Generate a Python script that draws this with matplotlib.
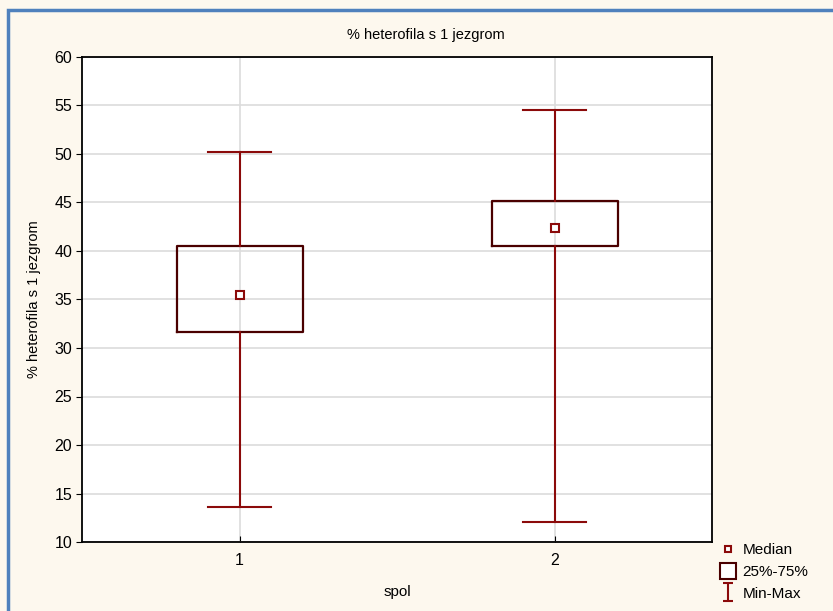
import matplotlib
matplotlib.use('Agg')
matplotlib.rc('font', family=['Liberation Sans', 'DejaVu Sans'])
import matplotlib.pyplot as plt
from matplotlib.lines import Line2D
from matplotlib.path import Path
from matplotlib.patches import Rectangle

# box plot summary per group (spol)
groups = ['1', '2']
medians = [35.5, 42.4]
q1 = [31.7, 40.5]
q3 = [40.5, 45.2]
mins = [13.6, 12.1]
maxs = [50.2, 54.5]

title = '% heterofila s 1 jezgrom'
bg = '#fdf8ee'
box_col = '#4a0000'
whisk_col = '#8b0a0a'

fig = plt.figure(figsize=(8.33, 6.11), dpi=100, facecolor=bg)
ax = fig.add_axes([82/833, 69/611, 630/833, 485/611])
ax.set_facecolor('white')

stats = []
for i in range(len(groups)):
    stats.append(dict(med=medians[i], q1=q1[i], q3=q3[i],
                      whislo=mins[i], whishi=maxs[i], label=groups[i]))

pos = list(range(1, len(groups) + 1))
ax.bxp(stats, positions=pos, widths=0.4, capwidths=0.2, showfliers=False,
       boxprops=dict(color=box_col, linewidth=1.6),
       whiskerprops=dict(color=whisk_col, linewidth=1.5),
       capprops=dict(color=whisk_col, linewidth=1.5),
       medianprops=dict(linestyle='none'), zorder=3)
ax.plot(pos, medians, linestyle='none', marker='s', markersize=6,
        markerfacecolor='white', markeredgecolor=whisk_col,
        markeredgewidth=1.5, zorder=4)

ax.set_xlim(0.5, 2.5)
ax.set_ylim(10, 60)
ax.set_yticks(range(10, 61, 5))
ax.set_xticks(pos)
ax.set_xticklabels(groups)
ax.grid(True, color='#dcdcdc', linewidth=1.2, zorder=0)
ax.set_axisbelow(True)
for s in ax.spines.values():
    s.set_linewidth(1.3)
    s.set_color('black')
ax.tick_params(axis='y', direction='out', length=4, labelsize=11.5, pad=3)
ax.tick_params(axis='x', direction='in', length=4, labelsize=11.5, pad=8)
ax.set_xlabel('spol', fontsize=11, labelpad=12)
ax.set_ylabel(title, fontsize=10.5, labelpad=10)

fig.text(426/833, 1 - 35/611, title, fontsize=10.5, ha='center', va='center')

# legend symbols
iv = [(-0.5, -1), (0.5, -1), (0, -1), (0, 1), (-0.5, 1), (0.5, 1)]
ic = [Path.MOVETO, Path.LINETO, Path.MOVETO, Path.LINETO, Path.MOVETO, Path.LINETO]
ibar = Path(iv, ic)
handles = [
    Line2D([], [], linestyle='none', marker='s', markersize=5,
           markerfacecolor='white', markeredgecolor=whisk_col, markeredgewidth=1.5),
    Line2D([], [], linestyle='none', marker='s', markersize=12,
           markerfacecolor='white', markeredgecolor=box_col, markeredgewidth=1.5),
    Line2D([], [], linestyle='none', marker=ibar, markersize=13,
           markerfacecolor='none', markeredgecolor=whisk_col, markeredgewidth=1.5),
]
fig.legend(handles, ['Median', '25%-75%', 'Min-Max'], loc='center left',
           bbox_to_anchor=(716/833, 1 - 572/611), frameon=False, fontsize=11,
           handlelength=1.0, handletextpad=0.45, labelspacing=0.5,
           borderaxespad=0, borderpad=0.3)

# blue frame around the chart area
fig.patches.append(Rectangle((8/833, -0.05), 1.0, 1 - 10/611 + 0.05,
                             transform=fig.transFigure, fill=False,
                             edgecolor='#4f81bd', linewidth=2.5))

fig.savefig('out.png', dpi=100, facecolor=bg)
